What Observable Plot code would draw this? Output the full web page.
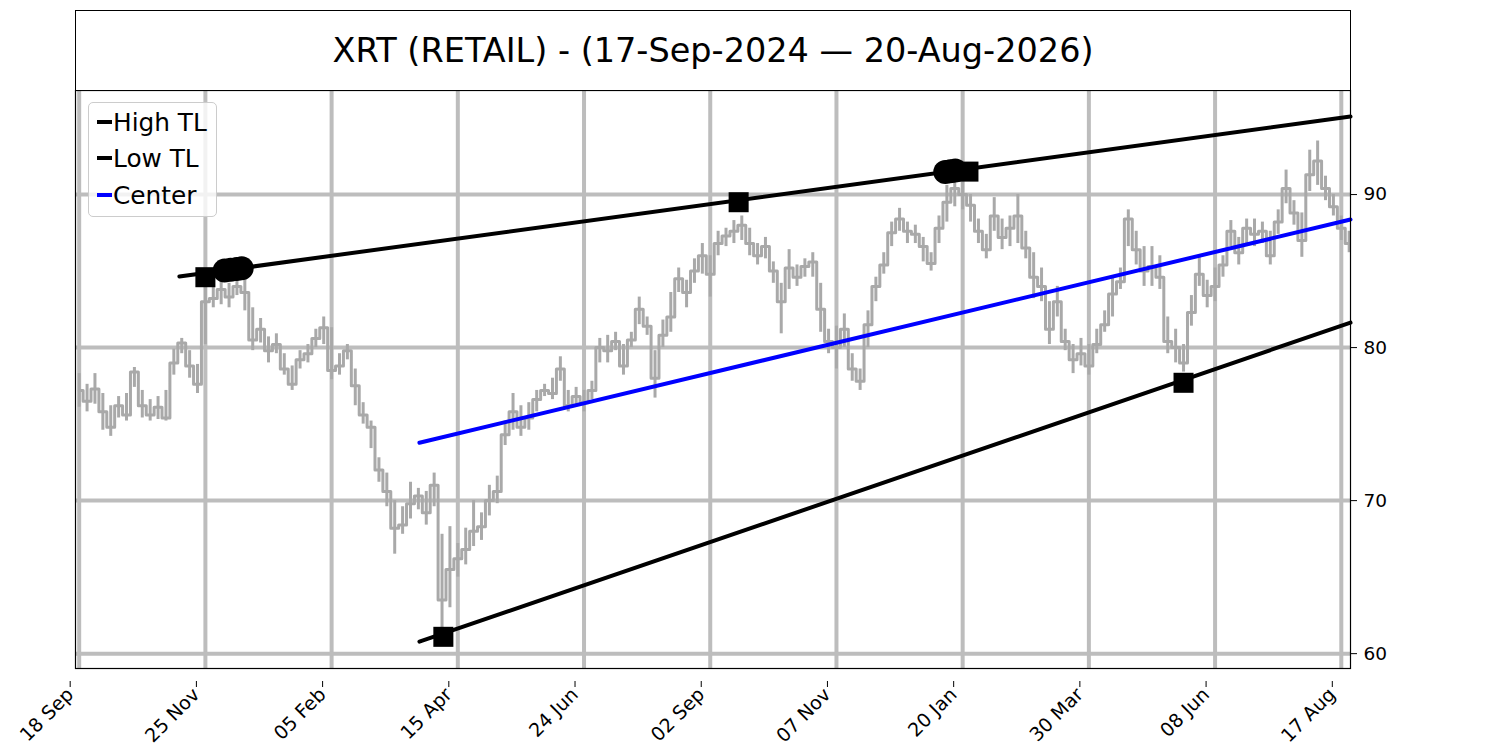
<!DOCTYPE html>
<html>
<head>
<meta charset="utf-8">
<script src="https://cdn.jsdelivr.net/npm/d3@7"></script>
<script src="https://cdn.jsdelivr.net/npm/@observablehq/plot@0.6"></script>
<style>
  body { margin: 0; background: #fff; font-family: "DejaVu Sans", sans-serif; }
  #wrap { position: relative; width: 1500px; height: 750px; overflow: hidden; }
  #chart { position: absolute; left: 0; top: 0; }
  #title { position: absolute; left: 75px; top: 10px; width: 1276px; height: 81px; box-sizing: border-box;
           border: 1.2px solid #000; display: flex; align-items: center; justify-content: center;
           font-size: 33.5px; color: #000; background: #fff; }
  #legend { position: absolute; left: 88px; top: 102px; width: 129px; height: 115px; box-sizing: border-box;
            border: 1px solid #cccccc; border-radius: 5px; background: rgba(255,255,255,0.8); }
  .item { position: absolute; left: 8px; height: 30px; display: flex; align-items: center; font-size: 24.8px; color: #000; }
  .swatch { width: 15px; height: 4px; margin-right: 1px; }
</style>
</head>
<body>
<div id="wrap">
  <div id="chart"></div>
  <div id="title"></div>
  <div id="legend"></div>
</div>
<script>
// ---- texts ----
const titleText = "XRT (RETAIL) - (17-Sep-2024 \u2014 20-Aug-2026)";
const legendLabels = ["High TL", "Low TL", "Center"];
const legendColors = ["#000000", "#000000", "#0000ff"];

// ---- x axis (trading-day index) ----
const tickIndex = [0, 48, 96, 144, 192, 240, 288, 336, 384, 432, 480];
const tickLabels = ["18 Sep", "25 Nov", "05 Feb", "15 Apr", "24 Jun", "02 Sep", "07 Nov", "20 Jan", "30 Mar", "08 Jun", "17 Aug"];
const yTicks = [60, 70, 80, 90];

// ---- price series: one reading every 3 trading days, starting at index 0 ----
const priceStep = 3;
const price = [
  77.2, 76.5, 77.3, 75.8, 74.8, 76.2, 75.6, 78.4, 76.2, 75.6,
  76.1, 75.4, 79.0, 80.3, 78.8, 77.6, 83.0, 83.2, 83.8, 83.3,
  84.0, 83.6, 80.5, 81.2, 79.8, 80.2, 78.6, 77.6, 79.2, 79.6,
  80.6, 81.3, 78.5, 78.8, 79.8, 77.5, 75.6, 74.8, 72.0, 70.6,
  68.2, 68.4, 69.8, 70.3, 69.2, 71.0, 63.5, 65.5, 66.2, 66.8,
  68.0, 68.3, 70.0, 70.6, 74.3, 75.8, 74.8, 75.4, 76.6, 77.2,
  77.0, 78.6, 76.2, 76.8, 76.4, 77.2, 80.0, 79.8, 80.4, 78.8,
  80.5, 82.5, 81.4, 78.0, 80.8, 82.0, 84.5, 83.6, 85.0, 86.0,
  84.8, 86.8, 87.3, 87.6, 88.0, 86.8, 86.0, 86.6, 85.0, 83.0,
  85.2, 84.6, 85.3, 85.6, 82.5, 80.4, 80.0, 81.2, 78.6, 77.8,
  81.5, 84.0, 85.4, 87.5, 88.4, 87.6, 87.4, 86.6, 85.5, 87.8,
  89.5, 90.4, 90.0, 89.3, 87.6, 86.4, 88.6, 87.2, 87.8, 88.6,
  86.5, 84.6, 84.0, 81.2, 83.0, 80.4, 79.2, 79.6, 78.8, 80.2,
  81.5, 83.5, 84.3, 88.4, 86.4, 85.0, 85.3, 84.6, 80.4, 80.0,
  79.0, 82.3, 84.8, 83.4, 84.0, 85.4, 87.6, 86.2, 87.8, 87.4,
  87.6, 86.0, 88.2, 90.4, 88.8, 87.0, 91.3, 92.2, 90.4, 89.2,
  87.8, 86.8
];
// daily swing inside each 3-day reading (low / high seen in the picture)
const priceLow = [
  76.1, 75.8, 76.3, 74.6, 74.2, 75.4, 75.2, 77.4, 75.4, 75.2,
  75.3, 75.2, 78.2, 79.6, 78.0, 77.0, 80.2, 82.6, 82.8, 82.6,
  83.4, 82.4, 79.8, 80.3, 79.0, 79.6, 78.2, 77.2, 78.6, 79.0,
  80.0, 80.2, 77.9, 78.2, 79.2, 76.2, 75.0, 73.4, 71.2, 69.6,
  66.5, 67.8, 68.8, 69.4, 68.4, 69.6, 61.3, 63.0, 65.0, 65.8,
  67.0, 67.4, 69.0, 69.8, 73.6, 74.6, 74.2, 74.6, 75.8, 76.8,
  76.6, 77.8, 75.8, 76.2, 75.8, 76.6, 79.0, 79.0, 79.8, 78.2,
  80.0, 81.5, 80.8, 76.7, 80.0, 81.0, 83.6, 82.6, 84.2, 84.8,
  83.3, 86.0, 86.6, 86.8, 87.0, 86.0, 85.4, 85.8, 84.2, 80.9,
  83.8, 84.0, 84.6, 84.6, 81.0, 79.6, 78.6, 80.0, 77.8, 77.2,
  80.0, 83.0, 84.8, 86.6, 87.6, 86.8, 86.8, 85.6, 85.0, 86.8,
  88.2, 89.2, 89.0, 88.2, 86.8, 85.8, 87.6, 86.4, 86.6, 86.8,
  85.8, 83.2, 83.0, 80.2, 82.0, 79.8, 78.3, 78.8, 78.2, 79.6,
  81.0, 82.0, 83.8, 86.6, 85.4, 84.0, 84.0, 83.8, 79.6, 79.0,
  78.4, 81.4, 84.0, 82.6, 83.0, 84.6, 86.6, 85.4, 86.8, 86.6,
  86.8, 85.4, 87.4, 89.4, 88.0, 85.9, 90.2, 90.6, 89.6, 88.6,
  87.0, 86.2
];
const priceHigh = [
  78.3, 77.6, 78.3, 77.0, 76.2, 76.8, 77.0, 78.7, 77.2, 76.6,
  76.8, 77.2, 79.9, 80.6, 79.8, 78.9, 84.2, 84.2, 84.4, 84.2,
  84.6, 84.4, 82.6, 81.9, 80.7, 80.9, 79.6, 78.8, 79.8, 80.2,
  81.2, 82.0, 81.3, 79.6, 80.2, 78.6, 76.4, 75.2, 72.8, 71.8,
  70.0, 69.6, 71.2, 70.8, 70.6, 71.8, 67.8, 68.3, 67.2, 68.2,
  70.0, 69.2, 71.0, 71.6, 75.2, 77.0, 76.2, 76.4, 77.2, 77.6,
  78.0, 79.4, 77.2, 77.4, 77.2, 77.8, 80.6, 80.8, 81.0, 80.2,
  81.0, 83.3, 82.0, 79.8, 81.8, 83.6, 85.2, 84.4, 85.8, 86.8,
  86.0, 87.6, 87.8, 88.3, 88.6, 87.8, 86.8, 87.2, 85.6, 84.2,
  86.4, 85.4, 85.8, 86.2, 84.2, 81.2, 81.4, 82.2, 79.6, 78.6,
  82.4, 84.6, 86.2, 88.2, 89.1, 88.2, 88.0, 87.2, 86.2, 88.6,
  90.6, 91.2, 91.0, 90.0, 88.4, 87.4, 89.8, 88.4, 88.6, 90.0,
  87.6, 86.2, 85.2, 83.0, 84.0, 81.2, 80.2, 80.6, 80.2, 81.2,
  82.4, 84.6, 85.2, 89.0, 87.6, 86.6, 86.6, 86.0, 82.0, 81.2,
  80.2, 83.4, 86.0, 84.4, 85.2, 86.0, 88.3, 87.2, 88.4, 88.4,
  88.2, 87.6, 89.0, 91.6, 89.6, 88.8, 92.9, 93.5, 91.2, 90.0,
  88.6, 87.6
];

// ---- trend lines ----
const highTLIndex = [38.1, 483.5];
const highTLValue = [84.64, 95.10];
const lowTLIndex = [129.4, 483.5];
const lowTLValue = [60.78, 81.63];
const centerIndex = [129.4, 483.5];
const centerValue = [73.78, 88.37];

// ---- pivot markers ----
const squareIndex = [48.0, 250.8, 338.2, 138.5, 420.0];
const squareValue = [84.6, 89.5, 91.5, 61.1, 77.7];
const circleIndex = [55.3, 57.6, 59.9, 61.8, 329.4, 331.3, 333.2];
const circleValue = [85.03, 85.08, 85.14, 85.18, 91.48, 91.52, 91.57];

// ---- build tables ----
const priceData = price.map((v, k) => ({ i: k * priceStep, v, lo: priceLow[k], hi: priceHigh[k] }));
const toPts = (xs, ys) => xs.map((x, k) => ({ i: x, v: ys[k] }));
const highData = toPts(highTLIndex, highTLValue);
const lowData = toPts(lowTLIndex, lowTLValue);
const centerData = toPts(centerIndex, centerValue);
const squares = toPts(squareIndex, squareValue);
const circles = toPts(circleIndex, circleValue);

const fmtX = d => tickLabels[tickIndex.indexOf(d)];

const chart = Plot.plot({
  width: 1500,
  height: 750,
  marginLeft: 75,
  marginRight: 150,
  marginTop: 90,
  marginBottom: 82,
  style: { fontFamily: '"DejaVu Sans", sans-serif', fontSize: "18.5px", color: "#000", background: "transparent", overflow: "visible" },
  x: { domain: [-1.4, 483.5] },
  y: { domain: [59.03, 96.8] },
  marks: [
    Plot.gridX(tickIndex, { stroke: "#bdbdbd", strokeOpacity: 1, strokeWidth: 4 }),
    Plot.gridY(yTicks, { stroke: "#bdbdbd", strokeOpacity: 1, strokeWidth: 4 }),
    Plot.ruleX(priceData, { x: "i", y1: "lo", y2: "hi", stroke: "#a9a9a9", strokeWidth: 3 }),
    Plot.line(priceData, { x: "i", y: "v", stroke: "#a9a9a9", strokeWidth: 3, curve: "step" }),
    Plot.line(centerData, { x: "i", y: "v", stroke: "#0000ff", strokeWidth: 4 }),
    Plot.line(highData, { x: "i", y: "v", stroke: "#000", strokeWidth: 4 }),
    Plot.line(lowData, { x: "i", y: "v", stroke: "#000", strokeWidth: 4 }),
    Plot.dot(circles, { x: "i", y: "v", r: 12, fill: "#000", stroke: "none" }),
    Plot.dot(squares, { x: "i", y: "v", r: 11.3, symbol: "square", fill: "#000", stroke: "none" }),
    Plot.frame({ stroke: "#000", strokeWidth: 1.2 }),
    Plot.axisX({ ticks: tickIndex, tickFormat: fmtX, tickRotate: -45, tickSize: 6, tickPadding: 4, fontSize: 19, dx: -9, dy: 13, label: null }),
    Plot.axisY({ anchor: "right", ticks: yTicks, tickSize: 6, tickPadding: 7, fontSize: 18.5, label: null })
  ]
});
document.getElementById("chart").appendChild(chart);

// title
document.getElementById("title").textContent = titleText;

// legend
const legend = document.getElementById("legend");
const itemTops = [4, 40, 77];
legendLabels.forEach((lab, k) => {
  const it = document.createElement("div");
  it.className = "item";
  it.style.top = itemTops[k] + "px";
  const sw = document.createElement("span");
  sw.className = "swatch";
  sw.style.background = legendColors[k];
  const tx = document.createElement("span");
  tx.textContent = lab;
  it.appendChild(sw);
  it.appendChild(tx);
  legend.appendChild(it);
});
</script>
</body>
</html>
